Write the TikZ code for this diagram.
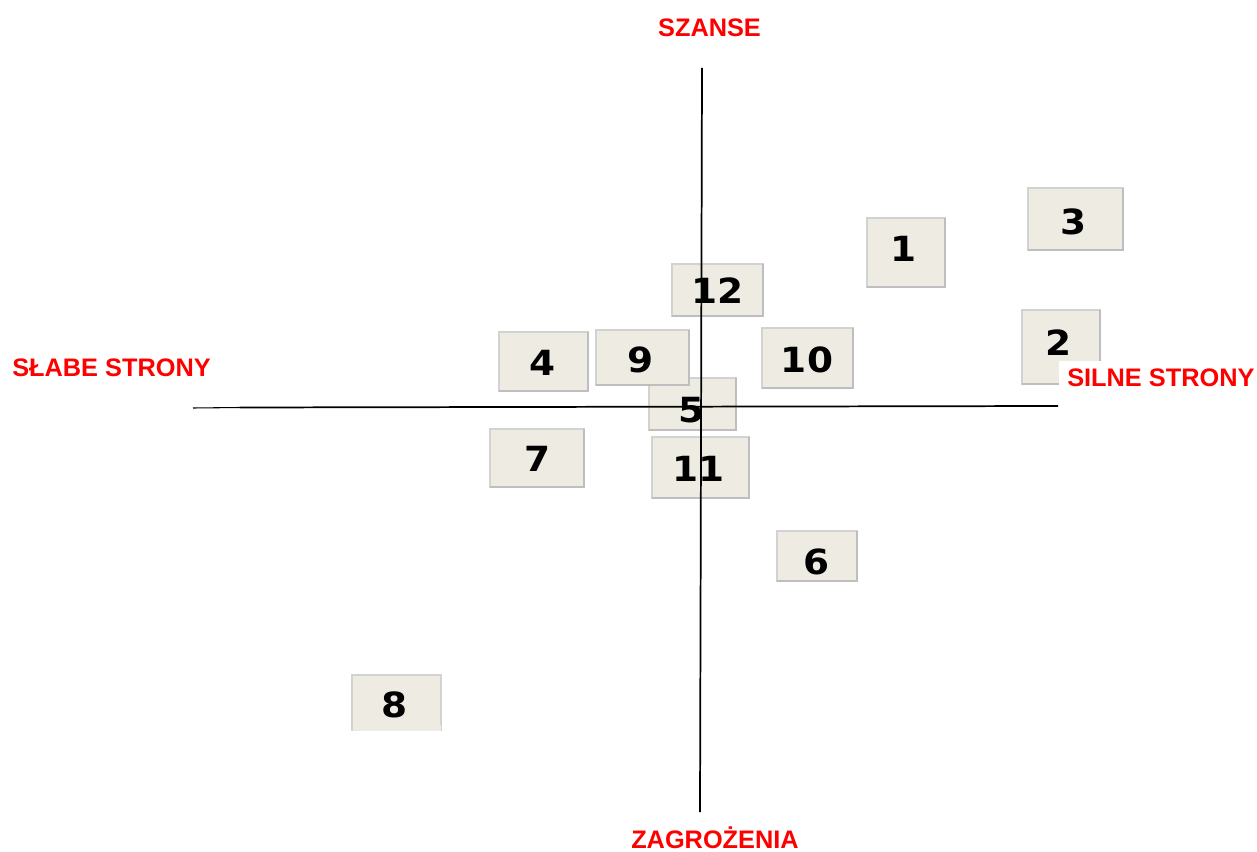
\documentclass[tikz,border=0pt]{standalone}
\usepackage{fontspec}
\setmainfont{Liberation Sans}
\newfontfamily\digitfont{DejaVu Sans}
\definecolor{boxfill}{HTML}{EEECE2}
\definecolor{boxedge}{HTML}{D2D2D2}
\definecolor{boxshade}{HTML}{BEBEBE}
\definecolor{lblred}{HTML}{FF0000}
\tikzset{
  boxsty/.style={fill=boxfill, draw=boxedge, line width=0.8pt},
  numsty/.style={inner sep=0pt, font=\digitfont\bfseries\fontsize{26}{26}\selectfont},
  lblsty/.style={inner sep=0pt, text=lblred, font=\bfseries\fontsize{19}{19}\selectfont},
  axissty/.style={black, line width=1.3pt}
}
\newcommand{\nbox}[7]{%
  \path[boxsty] (#1,#2) rectangle (#3,#4);
  \draw[boxshade, line width=0.9pt] (#1,#4) -- (#3,#4) -- (#3,#2);
  \node[numsty] (n#5) at (#6,#7) {\scalebox{1.08}[1]{#5}};
}
\begin{document}
\begin{tikzpicture}[x=0.75pt, y=-0.75pt]
\useasboundingbox (0,0) rectangle (1257,852);
\fill[white] (0,0) rectangle (1257,852);
% boxes: x1,y1,x2,y2,label,cx,cy
\nbox{867}{218}{945}{287}{1}{904}{249}
\nbox{1028}{188}{1123}{250}{3}{1073.5}{221.5}
\nbox{1022}{310}{1100}{384}{2}{1058.5}{343}
\nbox{672}{264}{763}{316}{12}{717.5}{291}
\nbox{499}{332}{588}{391}{4}{542.5}{363}
\nbox{762}{328}{853}{388}{10}{807}{359.5}
\nbox{649}{378}{736}{430}{5}{691.5}{410}
\nbox{596}{330}{689}{385}{9}{640.5}{359.5}
\nbox{490}{429}{584}{487}{7}{537.5}{458.5}
\nbox{652}{437}{749}{498}{11}{698.5}{468.5}
\nbox{777}{531}{857}{581}{6}{816.5}{561.5}
\path[boxsty] (352,675) rectangle (441,730);
\fill[boxfill] (352.5,725) rectangle (440.5,730.5);
\node[numsty] (n8) at (395,705) {\scalebox{1.08}[1]{8}};
% axes
\coordinate (hL0) at (193,408);
\coordinate (hL) at (240,407.5);
\coordinate (hR) at (1058,406);
\coordinate (vT) at (702,68);
\coordinate (vB) at (700,812);
\draw[black, line width=0.8pt] (hL0) -- (hL);
\draw[axissty] (hL) -- (hR);
\draw[axissty] (vT) -- (vB);
% labels
\node[lblsty, anchor=base] (szanse) at (709.5,37) {SZANSE};
\node[lblsty, anchor=base west] (slabe) at (12,377) {SŁABE STRONY};
\fill[white] (1059,361) rectangle (1257,393);
\node[lblsty, anchor=base west] (silne) at (1067,387) {SILNE STRONY};
\node[lblsty, anchor=base] (zagr) at (715,848) {ZAGROŻENIA};
\end{tikzpicture}
\end{document}
